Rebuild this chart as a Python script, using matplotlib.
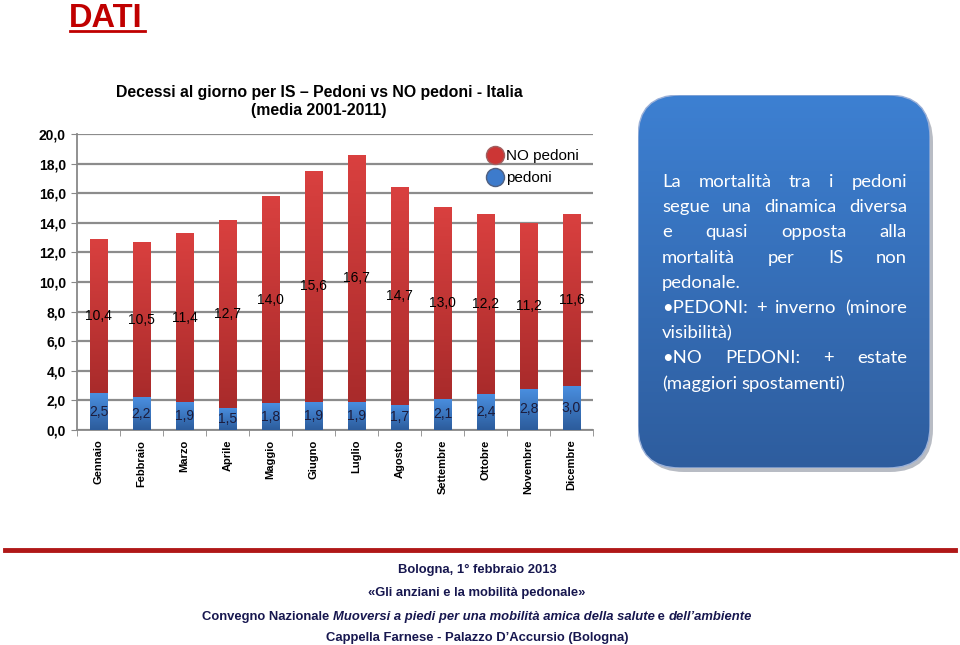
import numpy as np
import matplotlib.pyplot as plt
from matplotlib.patches import FancyBboxPatch
from matplotlib.lines import Line2D
from matplotlib.colors import LinearSegmentedColormap

mesi = ['Gennaio', 'Febbraio', 'Marzo', 'Aprile', 'Maggio', 'Giugno',
        'Luglio', 'Agosto', 'Settembre', 'Ottobre', 'Novembre', 'Dicembre']
pedoni = [2.5, 2.2, 1.9, 1.5, 1.8, 1.9, 1.9, 1.7, 2.1, 2.4, 2.8, 3.0]
no_pedoni = [10.4, 10.5, 11.4, 12.7, 14.0, 15.6, 16.7, 14.7, 13.0, 12.2, 11.2, 11.6]

box_lines = [
    ("La mortalità tra i pedoni", True),
    ("segue una dinamica diversa", True),
    ("e quasi opposta alla", True),
    ("mortalità per IS non", True),
    ("pedonale.", False),
    ("•PEDONI: + inverno (minore", True),
    ("visibilità)", False),
    ("•NO PEDONI: + estate", True),
    ("(maggiori spostamenti)", False),
]

W, H = 960, 645
fig = plt.figure(figsize=(9.6, 6.45), dpi=100)
fig.patch.set_facecolor('white')


def fx(px):
    return px / W


def fy(py):
    return 1 - py / H


def fmt(v):
    return f"{v:.1f}".replace('.', ',')


sans = ['Liberation Sans', 'DejaVu Sans']
narrow = ['Liberation Sans Narrow', 'Liberation Sans', 'DejaVu Sans']

# slide title
fig.text(fx(69), fy(27), 'DATI', color='#c00000', fontsize=23.5, fontweight='bold',
         family=sans, va='baseline', ha='left')
fig.add_artist(Line2D([fx(70), fx(145)], [fy(31), fy(31)], color='#c00000', lw=2))

# chart
ax = fig.add_axes([fx(77), fy(430), fx(593) - fx(77), fy(134) - fy(430)])
x = np.arange(len(mesi))
bw = 0.4
b1 = ax.bar(x, pedoni, bw, color='#3d7bcc', zorder=3)
b2 = ax.bar(x, no_pedoni, bw, bottom=pedoni, color='#cc3635', zorder=3)


def gradient(bars, top, bottom):
    cmap = LinearSegmentedColormap.from_list('g', [bottom, top])
    grad = np.linspace(0, 1, 64).reshape(-1, 1)
    for b in bars:
        x0, y0 = b.get_x(), b.get_y()
        im = ax.imshow(grad, cmap=cmap, origin='lower', aspect='auto',
                       extent=[x0, x0 + b.get_width(), y0, y0 + b.get_height()],
                       zorder=3.5)
        im.set_clip_path(b)


gradient(b1, '#4a8fe0', '#2c5c9c')
gradient(b2, '#d9403f', '#a92b2b')

ax.set_xlim(-0.5, 11.5)
ax.set_ylim(0, 20)
ax.set_yticks(np.arange(0, 21, 2))
ax.set_yticklabels([fmt(v) for v in np.arange(0, 21, 2)], fontsize=10,
                   fontweight='bold', family=sans)
ax.set_xticks(x)
ax.set_xticklabels(mesi, rotation=90, fontsize=8, fontweight='bold', family=sans)
ax.set_xticks(np.arange(-0.5, 12, 1), minor=True)
ax.tick_params(axis='x', which='major', length=0, pad=7)
ax.tick_params(axis='x', which='minor', length=4, color='#888888')
ax.tick_params(axis='y', length=4, color='#888888', pad=4)
ax.grid(axis='y', color='#8c8c8c', lw=1.6, zorder=1)
for s in ['top', 'right']:
    ax.spines[s].set_visible(False)
ax.spines['left'].set_color('#888888')
ax.spines['bottom'].set_color('#888888')
ax.spines['left'].set_linewidth(1.3)
ax.spines['bottom'].set_linewidth(1.3)

ax.bar_label(b1, labels=[fmt(v) for v in pedoni], label_type='center',
             fontsize=10, color='#1c1c3c', family=sans, zorder=5)
ax.bar_label(b2, labels=[fmt(v) for v in no_pedoni], label_type='center',
             fontsize=10, color='black', family=sans, zorder=5)

handles = [Line2D([], [], ls='', marker='o', markersize=13, color='#cc3635',
                  markeredgecolor='#a06060'),
           Line2D([], [], ls='', marker='o', markersize=13, color='#3d7bcc',
                  markeredgecolor='#506080')]
ax.legend(handles, ['NO pedoni', 'pedoni'], loc='upper left',
          bbox_to_anchor=((486 - 77) / 516, (430 - 149) / 296), frameon=False,
          handletextpad=0.1, labelspacing=0.55, borderpad=0,
          borderaxespad=0, handlelength=1.2, prop={'family': sans, 'size': 11})

fig.text(fx(319), fy(97), 'Decessi al giorno per IS – Pedoni vs NO pedoni - Italia',
         fontsize=11.4, fontweight='bold', family=sans, ha='center', va='baseline')
fig.text(fx(319), fy(115), '(media 2001-2011)', fontsize=11.4, fontweight='bold',
         family=sans, ha='center', va='baseline')

# text box
bx0, by0, bx1, by1 = 638, 95, 930, 468
shadow = FancyBboxPatch((fx(bx0 + 3), fy(by1 + 4)), fx(bx1 - bx0), fy(by0) - fy(by1),
                        boxstyle='round,pad=0,rounding_size=0.045',
                        transform=fig.transFigure, facecolor='#b8bcc4',
                        edgecolor='none', mutation_aspect=W / H, zorder=1)
fig.add_artist(shadow)
bax = fig.add_axes([fx(bx0), fy(by1), fx(bx1 - bx0), fy(by0) - fy(by1)], zorder=2)
bax.set_xlim(0, bx1 - bx0)
bax.set_ylim(0, by1 - by0)
bax.axis('off')
bax.patch.set_alpha(0)
box = FancyBboxPatch((0, 0), bx1 - bx0, by1 - by0,
                     boxstyle='round,pad=0,rounding_size=42',
                     facecolor='none', edgecolor='#9ab0d8', lw=1.0)
bax.add_patch(box)
bcmap = LinearSegmentedColormap.from_list('b', ['#2e5d9e', '#3d80d2'])
im = bax.imshow(np.linspace(0, 1, 128).reshape(-1, 1), cmap=bcmap, origin='lower',
                aspect='auto', extent=[0, bx1 - bx0, 0, by1 - by0])
im.set_clip_path(box)

tx0, tx1 = 662, 907
fs = 13.3
fam = ['Lato', 'DejaVu Sans']
renderer = fig.canvas.get_renderer()
for i, (line, justify) in enumerate(box_lines):
    yb = fy(187 + 25.2 * i)
    words = line.split(' ')
    arts = [fig.text(0, yb, w, color='white', fontsize=fs, family=fam,
                     ha='left', va='baseline', zorder=5) for w in words]
    widths = [a.get_window_extent(renderer).width for a in arts]
    sp = fig.text(0, 0, 'a a', fontsize=fs, family=fam).get_window_extent(renderer).width - \
        2 * fig.text(0, 0, 'a', fontsize=fs, family=fam).get_window_extent(renderer).width
    for t in fig.texts[-2:]:
        t.remove()
    if justify and len(words) > 1:
        gap = (tx1 - tx0 - sum(widths)) / (len(words) - 1)
    else:
        gap = sp
    xp = tx0
    for a, w in zip(arts, widths):
        a.set_x(fx(xp))
        xp += w + gap

# footer
fig.add_artist(Line2D([fx(5), fx(955)], [fy(550), fy(550)], color='#b01818', lw=3.5))
navy = '#17174f'
ffs = 9.4
fig.text(fx(477), fy(573), 'Bologna, 1° febbraio 2013', color=navy, fontsize=ffs,
         fontweight='bold', family=narrow, ha='center', va='baseline')
fig.text(fx(477), fy(596), '«Gli anziani e la mobilità pedonale»', color=navy, fontsize=ffs,
         fontweight='bold', family=narrow, ha='center', va='baseline')
fig.text(fx(477), fy(641), 'Cappella Farnese - Palazzo D’Accursio (Bologna)', color=navy,
         fontsize=ffs, fontweight='bold', family=narrow, ha='center', va='baseline')

parts = [('Convegno Nazionale ', 'normal'),
         ('Muoversi a piedi per una mobilità amica della salute', 'italic'),
         (' e ', 'normal'), ('dell’ambiente', 'italic')]
arts = [fig.text(0, fy(620), p, color=navy, fontsize=ffs, fontweight='bold', style=s,
                 family=narrow, ha='left', va='baseline') for p, s in parts]
ws = [a.get_window_extent(renderer).width for a in arts]
xp = 477 - sum(ws) / 2
for a, w in zip(arts, ws):
    a.set_x(fx(xp))
    xp += w

fig.savefig('out.png', dpi=100)
